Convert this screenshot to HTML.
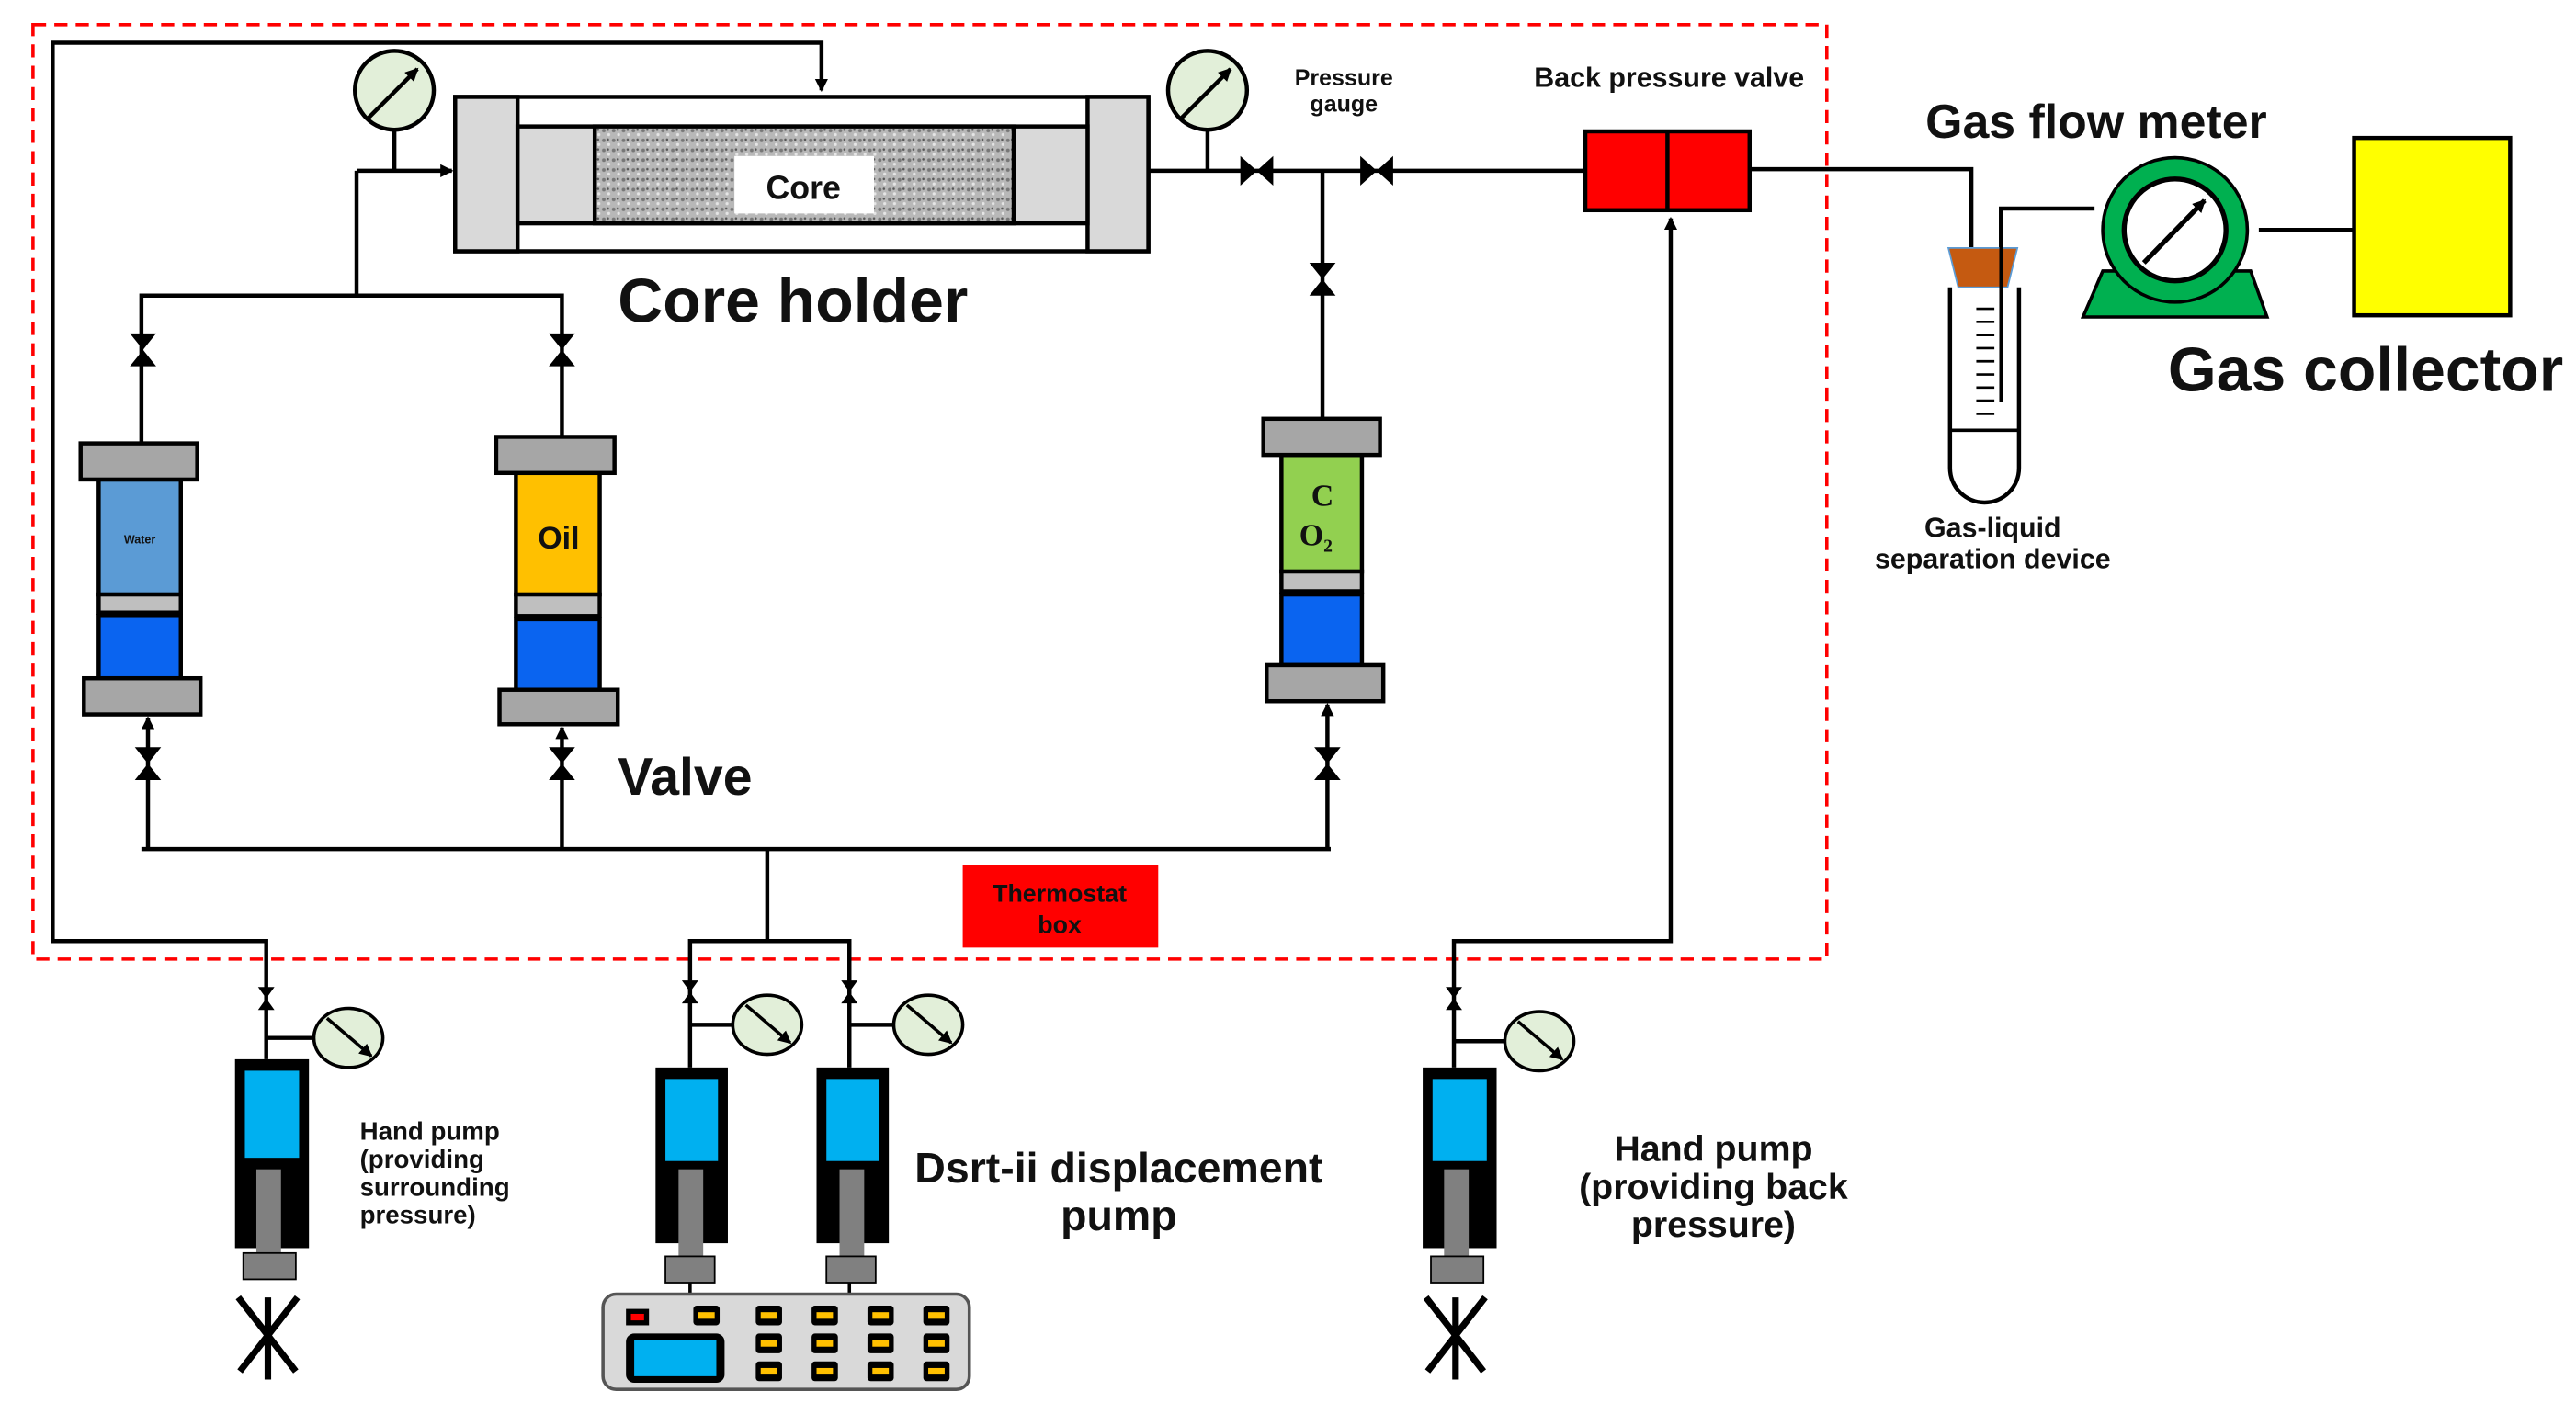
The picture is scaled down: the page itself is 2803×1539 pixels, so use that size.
<!DOCTYPE html>
<html><head><meta charset="utf-8"><style>
html,body{margin:0;padding:0;background:#fff;}
svg{display:block;}
text{font-family:"Liberation Sans","DejaVu Sans",sans-serif;font-weight:bold;fill:#111;}
</style></head><body>
<svg width="2803" height="1539" viewBox="0 0 1568 861" xmlns="http://www.w3.org/2000/svg">
<defs>
<marker id="ar" markerWidth="8" markerHeight="8" refX="7" refY="4" orient="auto" markerUnits="userSpaceOnUse"><path d="M0,0 L8,4 L0,8 z" fill="#000"/></marker>
<pattern id="tex" width="6" height="6" patternUnits="userSpaceOnUse"><rect width="6" height="6" fill="#b8b8b8"/><circle cx="1.5" cy="1.5" r="1.1" fill="#777"/><circle cx="4.5" cy="4" r="0.9" fill="#e6e6e6"/><circle cx="4" cy="1" r="0.7" fill="#555"/></pattern>
<g id="vv"><path d="M-8,-10 L8,-10 L-8,10 L8,10 z" fill="#000"/></g>
<g id="vh"><path d="M-10,-9 L-10,9 L10,-9 L10,9 z" fill="#000"/></g>
<g id="vs"><path d="M-5,-7 L5,-7 L-5,7 L5,7 z" fill="#000"/></g>
</defs>
<rect x="0" y="0" width="1568" height="861" fill="#fff"/>
<rect x="20" y="15" width="1092" height="569" fill="none" stroke="#f00" stroke-width="2" stroke-dasharray="8,5"/>
<g stroke="#000" stroke-width="2.5" fill="none">
<polyline points="162,600 162,573 32,573 32,26 500,26 500,55" marker-end="url(#ar)"/>
<line x1="217" y1="104" x2="275" y2="104" marker-end="url(#ar)"/>
<line x1="240" y1="78" x2="240" y2="104"/>
<polyline points="217,104 217,180"/>
<polyline points="86,270 86,180 342,180 342,266"/>
<line x1="90" y1="517" x2="90" y2="437" marker-end="url(#ar)"/>
<line x1="342" y1="517" x2="342" y2="443" marker-end="url(#ar)"/>
<line x1="808" y1="517" x2="808" y2="429" marker-end="url(#ar)"/>
<line x1="86" y1="517" x2="810" y2="517"/>
<polyline points="467,517 467,573"/>
<polyline points="420,600 420,573 517,573 517,600"/>
<line x1="699" y1="104" x2="965" y2="104"/>
<line x1="735" y1="78" x2="735" y2="104"/>
<line x1="805" y1="104" x2="805" y2="255"/>
<polyline points="885,600 885,573 1017,573 1017,133" marker-end="url(#ar)"/>
<polyline points="1065,103 1200,103 1200,152"/>
<polyline points="1218,245 1218,127 1275,127"/>
<line x1="1375" y1="140" x2="1433" y2="140"/>
<line x1="162" y1="600" x2="162" y2="645"/>
<line x1="420" y1="600" x2="420" y2="650"/>
<line x1="517" y1="600" x2="517" y2="650"/>
<line x1="885" y1="600" x2="885" y2="650"/>
<line x1="162" y1="632" x2="192" y2="632"/>
<line x1="420" y1="624" x2="447" y2="624"/>
<line x1="517" y1="624" x2="545" y2="624"/>
<line x1="885" y1="634" x2="917" y2="634"/>
</g>
<use href="#vv" x="87" y="213"/><use href="#vv" x="342" y="213"/>
<use href="#vv" x="90" y="465"/><use href="#vv" x="342" y="465"/><use href="#vv" x="808" y="465"/>
<use href="#vv" x="805" y="170"/>
<use href="#vh" x="765" y="104"/><use href="#vh" x="838" y="104"/>
<use href="#vs" x="162" y="608"/><use href="#vs" x="420" y="604"/><use href="#vs" x="517" y="604"/><use href="#vs" x="885" y="608"/>
<g stroke="#000" stroke-width="2.5">
<rect x="277" y="59" width="422" height="94" fill="#fff"/>
<rect x="277" y="59" width="38" height="94" fill="#d9d9d9"/>
<rect x="662" y="59" width="37" height="94" fill="#d9d9d9"/>
<rect x="315" y="77" width="347" height="59" fill="#d9d9d9"/>
<rect x="362" y="77" width="255" height="59" fill="url(#tex)"/>
</g>
<rect x="447" y="95" width="85" height="35" fill="#fff"/>
<text x="489" y="121" font-size="20" text-anchor="middle">Core</text>
<g stroke="#000" stroke-width="2.5">
<ellipse cx="240" cy="55" rx="24" ry="24" fill="#e2efd9"/>
<ellipse cx="735" cy="55" rx="24" ry="24" fill="#e2efd9"/>
<line x1="224" y1="72" x2="254" y2="42" marker-end="url(#ar)"/>
<line x1="719" y1="72" x2="749" y2="42" marker-end="url(#ar)"/>
</g>
<g stroke="#000" stroke-width="2.5">
<rect x="60" y="292" width="50" height="70" fill="#5b9bd5"/>
<rect x="60" y="362" width="50" height="11" fill="#bfbfbf"/>
<rect x="60" y="375" width="50" height="38" fill="#0a64f0"/>
<rect x="49" y="270" width="71" height="22" fill="#a6a6a6"/>
<rect x="51" y="413" width="71" height="22" fill="#a6a6a6"/>
<rect x="314" y="288" width="51" height="74" fill="#ffc000"/>
<rect x="314" y="362" width="51" height="13" fill="#bfbfbf"/>
<rect x="314" y="377" width="51" height="43" fill="#0a64f0"/>
<rect x="302" y="266" width="72" height="22" fill="#a6a6a6"/>
<rect x="304" y="420" width="72" height="21" fill="#a6a6a6"/>
<rect x="780" y="277" width="49" height="71" fill="#92d050"/>
<rect x="780" y="348" width="49" height="12" fill="#bfbfbf"/>
<rect x="780" y="362" width="49" height="43" fill="#0a64f0"/>
<rect x="769" y="255" width="71" height="22" fill="#a6a6a6"/>
<rect x="771" y="405" width="71" height="22" fill="#a6a6a6"/>
</g>
<text x="85" y="331" font-size="7" text-anchor="middle" font-weight="normal">Water</text>
<text x="340" y="334" font-size="19" text-anchor="middle">Oil</text>
<text x="805" y="308" font-size="19" text-anchor="middle" font-weight="normal" style="font-family:'Liberation Serif',serif">C</text>
<text x="801" y="332" font-size="19" text-anchor="middle" font-weight="normal" style="font-family:'Liberation Serif',serif">O<tspan font-size="11" dy="4">2</tspan></text>
<rect x="965" y="80" width="100" height="48" fill="#f00" stroke="#000" stroke-width="2.5"/>
<line x1="1015" y1="80" x2="1015" y2="128" stroke="#000" stroke-width="2.5"/>
<path d="M1187,175 L1187,285 A21,21 0 0 0 1229,285 L1229,175" fill="#fff" stroke="#000" stroke-width="2.5"/>
<line x1="1187" y1="262" x2="1229" y2="262" stroke="#000" stroke-width="2"/>
<g stroke="#000" stroke-width="1.5">
<line x1="1203" y1="188" x2="1214" y2="188"/><line x1="1203" y1="196" x2="1214" y2="196"/><line x1="1203" y1="204" x2="1214" y2="204"/><line x1="1203" y1="212" x2="1214" y2="212"/><line x1="1203" y1="220" x2="1214" y2="220"/><line x1="1203" y1="228" x2="1214" y2="228"/><line x1="1203" y1="236" x2="1214" y2="236"/><line x1="1203" y1="244" x2="1214" y2="244"/><line x1="1203" y1="252" x2="1214" y2="252"/>
</g>
<path d="M1186,151 L1228,151 L1222,175 L1192,175 z" fill="#c55a11" stroke="#5b9bd5" stroke-width="1"/>
<line x1="1218" y1="127" x2="1218" y2="245" stroke="#000" stroke-width="2"/>
<path d="M1280,165 L1370,165 L1380,193 L1268,193 z" fill="#00b050" stroke="#000" stroke-width="2"/>
<circle cx="1324" cy="140" r="44" fill="#00b050" stroke="#000" stroke-width="2"/>
<circle cx="1324" cy="140" r="31" fill="#fff" stroke="#000" stroke-width="3"/>
<line x1="1305" y1="160" x2="1342" y2="122" stroke="#000" stroke-width="3" marker-end="url(#ar)"/>
<rect x="1433" y="84" width="95" height="108" fill="#ff0" stroke="#000" stroke-width="2.5"/>
<rect x="586" y="527" width="119" height="50" fill="#f00"/>
<text x="645" y="549" font-size="15" text-anchor="middle">Thermostat</text>
<text x="645" y="568" font-size="15" text-anchor="middle">box</text>
<g stroke="#000" stroke-width="2">
<ellipse cx="212" cy="632" rx="21" ry="18" fill="#e2efd9"/>
<ellipse cx="467" cy="624" rx="21" ry="18" fill="#e2efd9"/>
<ellipse cx="565" cy="624" rx="21" ry="18" fill="#e2efd9"/>
<ellipse cx="937" cy="634" rx="21" ry="18" fill="#e2efd9"/>
<line x1="199" y1="620" x2="226" y2="643" marker-end="url(#ar)"/>
<line x1="454" y1="612" x2="481" y2="635" marker-end="url(#ar)"/>
<line x1="552" y1="612" x2="579" y2="635" marker-end="url(#ar)"/>
<line x1="924" y1="622" x2="951" y2="645" marker-end="url(#ar)"/>
</g>
<g>
<rect x="143" y="645" width="45" height="115" fill="#000"/><rect x="149" y="652" width="33" height="53" fill="#00b0f0"/><rect x="156" y="712" width="15" height="55" fill="#808080"/><rect x="148" y="763" width="32" height="16" fill="#808080" stroke="#000"/>
<rect x="399" y="650" width="44" height="107" fill="#000"/><rect x="405" y="657" width="32" height="50" fill="#00b0f0"/><rect x="413" y="712" width="15" height="55" fill="#808080"/><rect x="405" y="765" width="30" height="16" fill="#808080" stroke="#000"/>
<rect x="497" y="650" width="44" height="107" fill="#000"/><rect x="503" y="657" width="32" height="50" fill="#00b0f0"/><rect x="511" y="712" width="15" height="55" fill="#808080"/><rect x="503" y="765" width="30" height="16" fill="#808080" stroke="#000"/>
<rect x="866" y="650" width="45" height="110" fill="#000"/><rect x="872" y="657" width="33" height="50" fill="#00b0f0"/><rect x="879" y="712" width="15" height="55" fill="#808080"/><rect x="871" y="765" width="32" height="16" fill="#808080" stroke="#000"/>
</g>
<g stroke="#000" stroke-width="4" fill="none">
<path d="M145,790 L180,835 M181,790 L146,835 M163,790 L163,840"/>
<path d="M868,790 L903,835 M904,790 L869,835 M886,790 L886,840"/>
</g>
<line x1="420" y1="781" x2="420" y2="788" stroke="#000" stroke-width="2"/>
<line x1="517" y1="781" x2="517" y2="788" stroke="#000" stroke-width="2"/>
<rect x="367" y="788" width="223" height="58" rx="8" fill="#d9d9d9" stroke="#555" stroke-width="2"/>
<rect x="381" y="797" width="14" height="10" fill="#000"/><rect x="384" y="800" width="8" height="4" fill="#f00"/>
<rect x="381" y="812" width="60" height="30" rx="5" fill="#000"/><rect x="386" y="816" width="50" height="22" fill="#00b0f0"/>
<g fill="#000">
<rect x="422" y="795" width="16" height="12" rx="2"/><rect x="460" y="795" width="16" height="12" rx="2"/><rect x="494" y="795" width="16" height="12" rx="2"/><rect x="528" y="795" width="16" height="12" rx="2"/><rect x="562" y="795" width="16" height="12" rx="2"/>
<rect x="460" y="812" width="16" height="12" rx="2"/><rect x="494" y="812" width="16" height="12" rx="2"/><rect x="528" y="812" width="16" height="12" rx="2"/><rect x="562" y="812" width="16" height="12" rx="2"/>
<rect x="460" y="829" width="16" height="12" rx="2"/><rect x="494" y="829" width="16" height="12" rx="2"/><rect x="528" y="829" width="16" height="12" rx="2"/><rect x="562" y="829" width="16" height="12" rx="2"/>
</g>
<g fill="#ffc000">
<rect x="425" y="799" width="10" height="4"/><rect x="463" y="799" width="10" height="4"/><rect x="497" y="799" width="10" height="4"/><rect x="531" y="799" width="10" height="4"/><rect x="565" y="799" width="10" height="4"/>
<rect x="463" y="816" width="10" height="4"/><rect x="497" y="816" width="10" height="4"/><rect x="531" y="816" width="10" height="4"/><rect x="565" y="816" width="10" height="4"/>
<rect x="463" y="833" width="10" height="4"/><rect x="497" y="833" width="10" height="4"/><rect x="531" y="833" width="10" height="4"/><rect x="565" y="833" width="10" height="4"/>
</g>
<text x="376" y="196" font-size="38">Core holder</text>
<text x="376" y="484" font-size="32">Valve</text>
<text x="818" y="52" font-size="14" text-anchor="middle">Pressure</text>
<text x="818" y="68" font-size="14" text-anchor="middle">gauge</text>
<text x="1016" y="53" font-size="17" text-anchor="middle">Back pressure valve</text>
<text x="1276" y="84" font-size="29" text-anchor="middle">Gas flow meter</text>
<text x="1440" y="238" font-size="38" text-anchor="middle">Gas collector</text>
<text x="1213" y="327" font-size="17" text-anchor="middle">Gas-liquid</text>
<text x="1213" y="346" font-size="17" text-anchor="middle">separation device</text>
<text x="219" y="694" font-size="15.5">Hand pump</text>
<text x="219" y="711" font-size="15.5">(providing</text>
<text x="219" y="728" font-size="15.5">surrounding</text>
<text x="219" y="745" font-size="15.5">pressure)</text>
<text x="681" y="720" font-size="26" text-anchor="middle">Dsrt-ii displacement</text>
<text x="681" y="749" font-size="26" text-anchor="middle">pump</text>
<text x="1043" y="707" font-size="22" text-anchor="middle">Hand pump</text>
<text x="1043" y="730" font-size="22" text-anchor="middle">(providing back</text>
<text x="1043" y="753" font-size="22" text-anchor="middle">pressure)</text>
</svg>
</body></html>
